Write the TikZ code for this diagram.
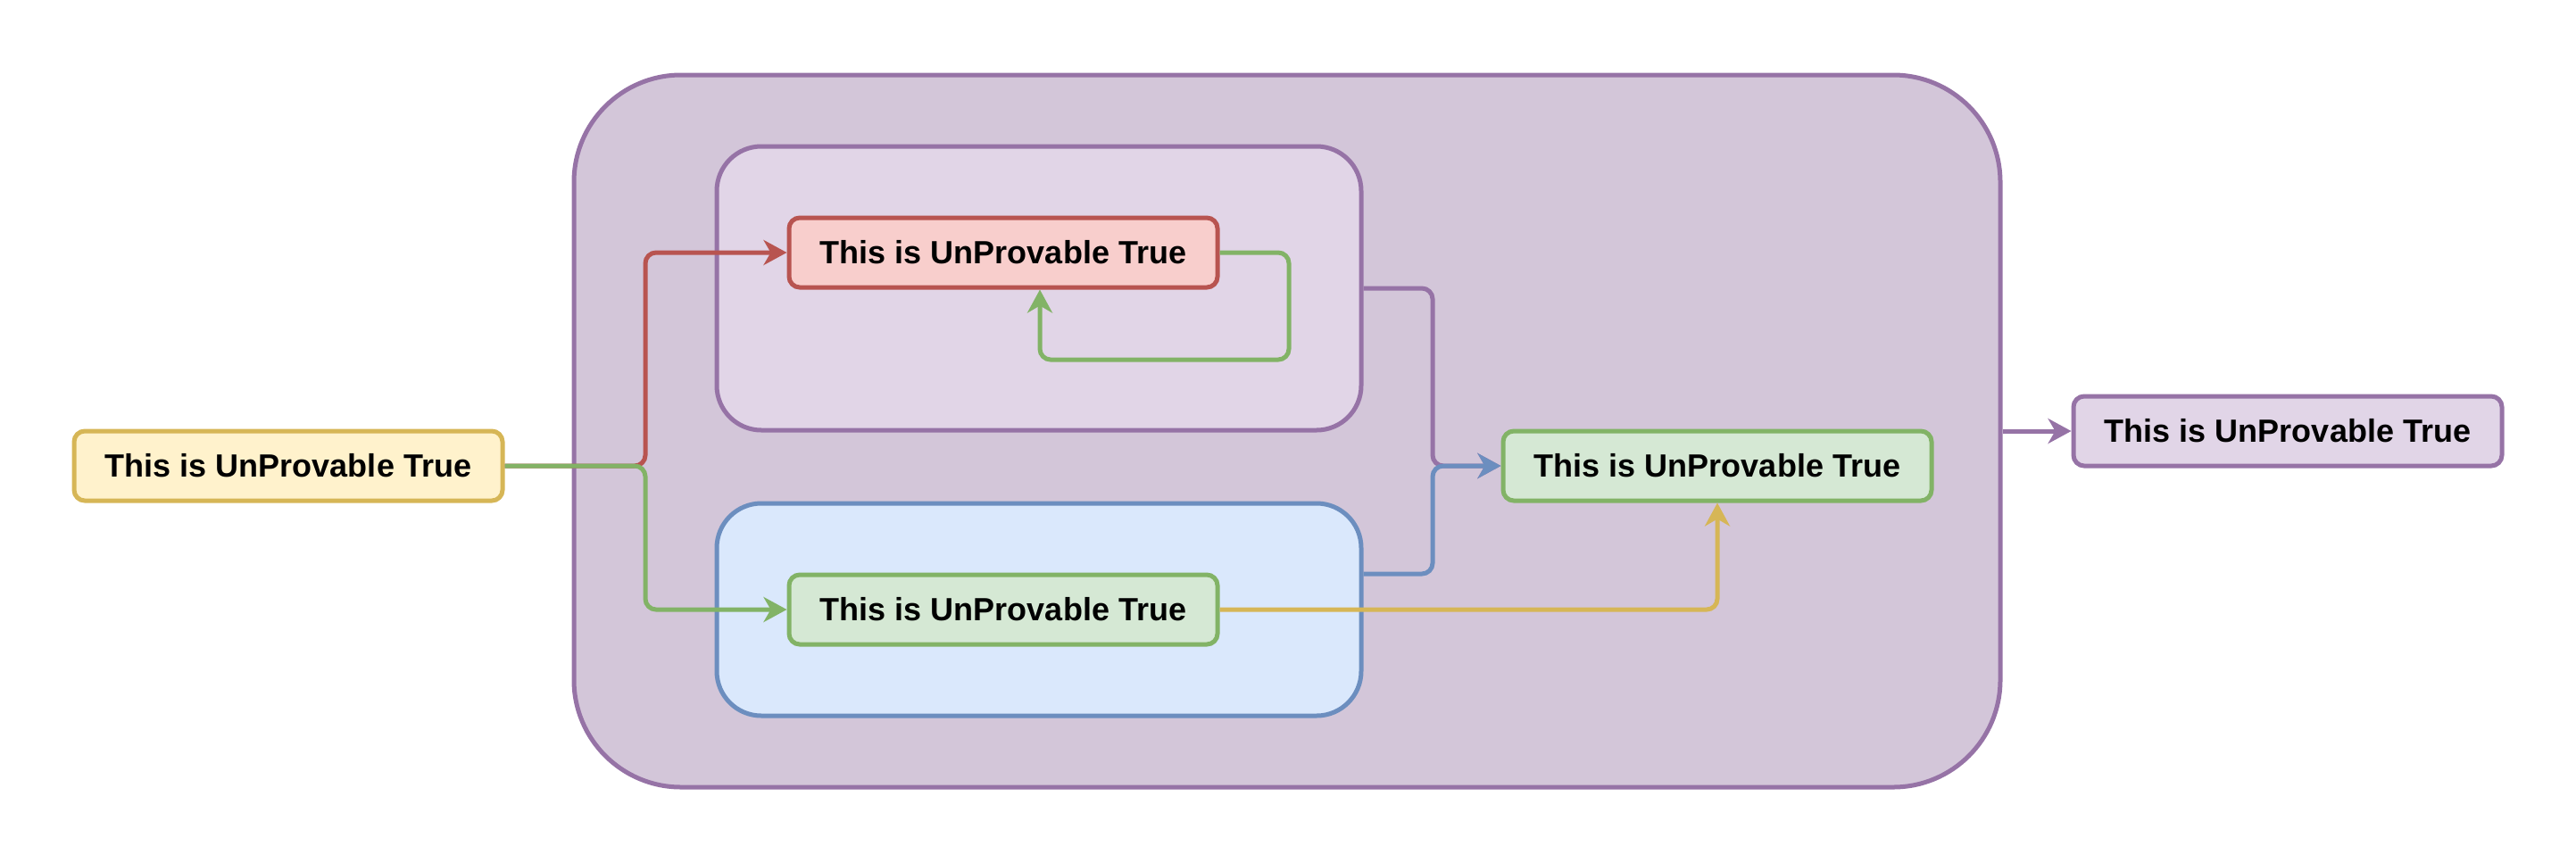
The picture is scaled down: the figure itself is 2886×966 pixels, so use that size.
\documentclass[tikz,border=0pt]{standalone}
\usepackage{fontspec}
\setmainfont{Liberation Sans}
\usetikzlibrary{arrows.meta}
\usepackage{xcolor}
\definecolor{yelS}{HTML}{D6B656}
\definecolor{yelF}{HTML}{FFF2CC}
\definecolor{redS}{HTML}{B85450}
\definecolor{redF}{HTML}{F8CECC}
\definecolor{grnS}{HTML}{82B366}
\definecolor{grnF}{HTML}{D5E8D4}
\definecolor{blueS}{HTML}{6C8EBF}
\definecolor{blueF}{HTML}{DAE8FC}
\definecolor{purpS}{HTML}{9673A6}
\definecolor{purpF}{HTML}{E1D5E7}
\definecolor{outerF}{HTML}{D3C6D9}
\tikzstyle{stmt}=[draw, line width=2.5pt, rounded corners=6pt, minimum width=240pt, minimum height=39pt, inner sep=0pt, font=\bfseries\fontsize{18}{21}\selectfont]
\tikzstyle{group}=[draw=purpS, line width=2.5pt, inner sep=0pt]
\tikzstyle{link}=[line width=2.5pt, rounded corners=6pt, -{Stealth[length=13pt,width=14pt,inset=4pt]}]
\newcommand{\stmt}{\node[stmt]}

\begin{document}
\begin{tikzpicture}[x=0.5pt,y=-0.5pt]
\useasboundingbox (0,0) rectangle (2886,966);
% containers
\node[group, fill=outerF, rounded corners=60pt, minimum width=799pt, minimum height=399pt] (outer) at (1442,483) {};
\node[group, fill=purpF, rounded corners=25pt, minimum width=361pt, minimum height=159pt] (upper) at (1164,323) {};
\node[group, draw=blueS, fill=blueF, rounded corners=25pt, minimum width=361pt, minimum height=119pt] (lower) at (1164,683) {};
% statements
\stmt[draw=yelS, fill=yelF] (input) at (323,522) {This is UnProvable True};
\stmt[draw=redS, fill=redF] (claim) at (1124,283) {This is UnProvable True};
\stmt[draw=grnS, fill=grnF] (proof) at (1124,683) {This is UnProvable True};
\stmt[draw=grnS, fill=grnF] (merge) at (1924,522) {This is UnProvable True};
\stmt[draw=purpS, fill=purpF] (result) at (2563,483) {This is UnProvable True};
\coordinate (fork) at (723,522);
\coordinate (loopR) at (1444,403);
\coordinate (join) at (1605,522);
% connectors
\draw[link, redS] (input.east) -- (fork) |- (claim.west);
\draw[link, grnS] (input.east) -- (fork) |- (proof.west);
\draw[link, grnS] (claim.east) -| (loopR) -| ([xshift=20.5pt]claim.south);
\draw[link, purpS] (upper.east) -| (join) -- (merge.west);
\draw[link, blueS] ([yshift=20pt]lower.east) -| (join) -- (merge.west);
\draw[link, yelS] (proof.east) -| (merge.south);
\draw[link, purpS] (outer.east) -- (result.west);
\end{tikzpicture}
\end{document}
